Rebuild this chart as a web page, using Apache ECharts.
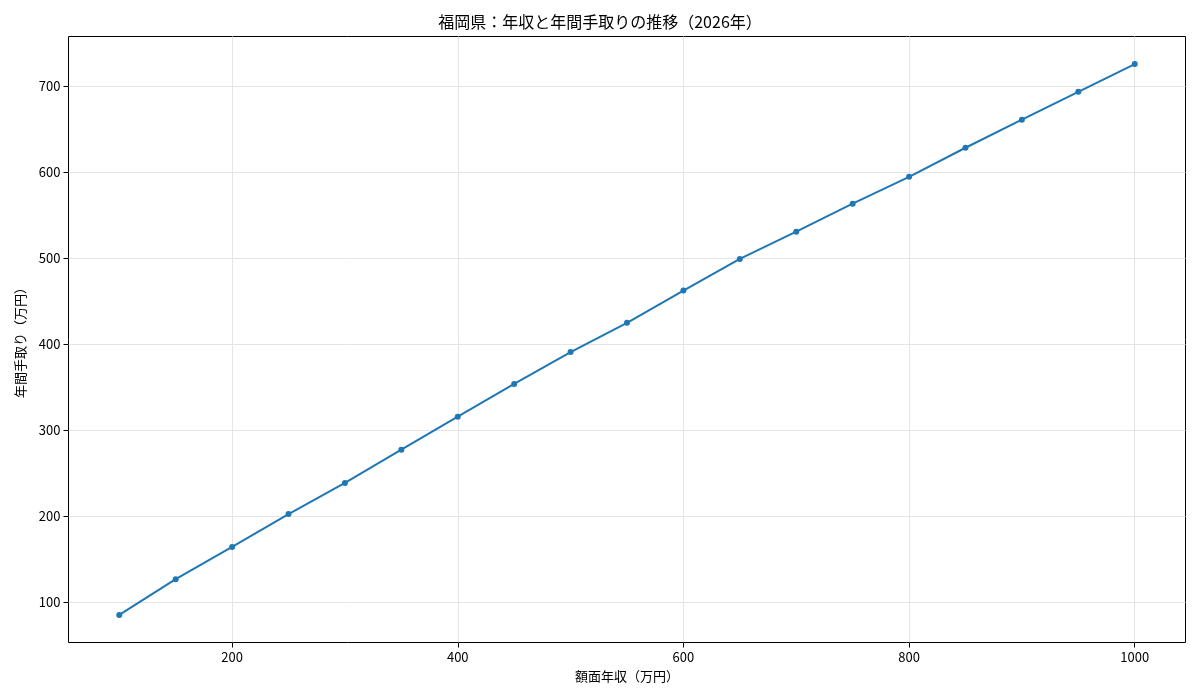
<!DOCTYPE html>
<html><head><meta charset="utf-8">
<script src="https://cdn.jsdelivr.net/npm/echarts@6/dist/echarts.min.js"></script>
<style>html,body{margin:0;padding:0;background:#fff}#c{width:1200px;height:700px}</style>
</head><body><div id="c"></div>
<script>
const titleText = '福岡県：年収と年間手取りの推移（2026年）';
const xLabel = '額面年収（万円）';
const yLabel = '年間手取り（万円）';
const income = [100,150,200,250,300,350,400,450,500,550,600,650,700,750,800,850,900,950,1000];
const takeHome = [85,126.6,164.1,202.3,238.4,277.1,315.5,353.5,390.6,424.6,462,498.8,530.5,563,594.2,628,660.6,693,725.3];
const xTicks = [200,400,600,800,1000];
const yTicks = [100,200,300,400,500,600,700];

const font = '"Noto Sans CJK JP", "Noto Sans", sans-serif';
const xr = Math.max(...income) - Math.min(...income);
const yr = Math.max(...takeHome) - Math.min(...takeHome);
const xMin = Math.min(...income) - 0.05*xr, xMax = Math.max(...income) + 0.05*xr;
const yMin = Math.min(...takeHome) - 0.05*yr, yMax = Math.max(...takeHome) + 0.05*yr;

const chart = echarts.init(document.getElementById('c'), null, {renderer:'canvas'});
chart.setOption({
  animation:false,
  backgroundColor:'#fff',
  title:{text:titleText,left:'center',top:9,textStyle:{fontFamily:font,fontSize:16,fontWeight:'normal',color:'#000'}},
  grid:{left:68.5,right:14.5,top:36.5,bottom:57.5,show:true,borderColor:'#000',borderWidth:1,backgroundColor:'transparent'},
  xAxis:{type:'value',min:xMin,max:xMax,
    name:xLabel,nameLocation:'middle',nameGap:27,nameTextStyle:{fontFamily:font,fontSize:13,color:'#000'},
    axisLine:{show:false},
    axisTick:{show:true,length:5,customValues:xTicks,lineStyle:{color:'#000'}},
    axisLabel:{customValues:xTicks,formatter:v=>String(v),fontFamily:font,fontSize:13,color:'#000',margin:8},
    splitLine:{show:true,lineStyle:{color:'#e4e4e4',width:1}}},
  yAxis:{type:'value',min:yMin,max:yMax,
    name:yLabel,nameLocation:'middle',nameGap:42,nameRotate:90,nameTextStyle:{fontFamily:font,fontSize:13,color:'#000'},
    axisLine:{show:false},
    axisTick:{show:true,length:5,customValues:yTicks,lineStyle:{color:'#000'}},
    axisLabel:{customValues:yTicks,formatter:v=>String(v),fontFamily:font,fontSize:13,color:'#000',margin:8},
    splitLine:{show:true,lineStyle:{color:'#e4e4e4',width:1}}},
  series:[{type:'line',data:income.map((x,i)=>[x,takeHome[i]]),
    symbol:'circle',symbolSize:6,
    lineStyle:{color:'#1f77b4',width:2},itemStyle:{color:'#1f77b4'}}]
});
</script></body></html>
